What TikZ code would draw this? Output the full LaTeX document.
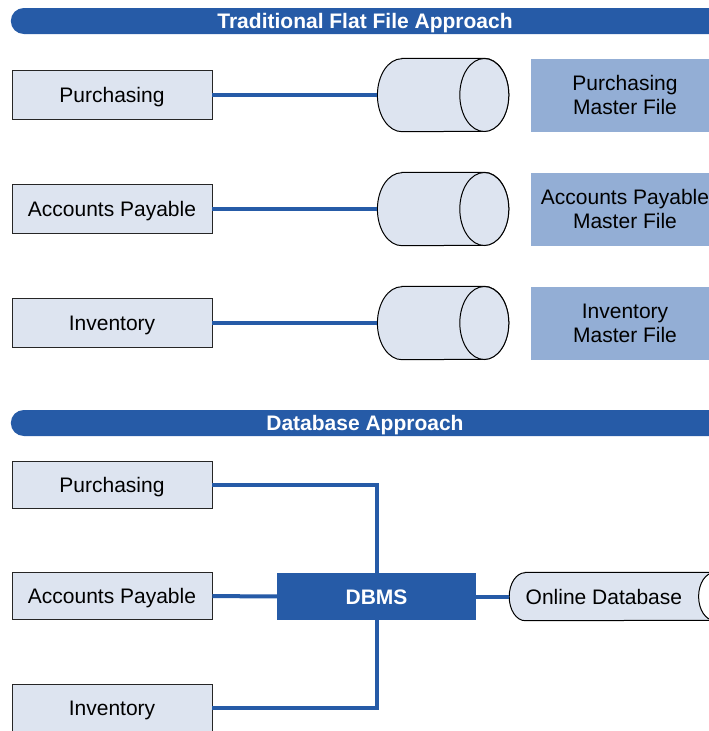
\documentclass[tikz,border=0pt]{standalone}
\usepackage{fontspec}
\setmainfont{Liberation Sans}
\usetikzlibrary{positioning,shapes.misc,backgrounds}
\definecolor{mybarblue}{RGB}{38,91,167}
\definecolor{myboxfill}{RGB}{221,228,240}
\definecolor{myfilefill}{RGB}{147,174,213}

% drum outline around a node: [#1 end fill] #2 node, #3 x radius, #4 y radius
\newcommand{\drumoutline}[4][myboxfill]{%
  \begin{scope}[on background layer]
    \filldraw [drumline] ([xshift=#3]#2.north west) -- ([xshift=#3]#2.north east)
      arc [start angle=90, end angle=-90, x radius=#3, y radius=#4]
      -- ([xshift=#3]#2.south west)
      arc [start angle=270, end angle=90, x radius=#3, y radius=#4] -- cycle;
    \filldraw [drumline, fill=#1] ([xshift=#3]#2.east) ellipse [x radius=#3, y radius=#4];
  \end{scope}
}

\begin{document}
\begin{tikzpicture}[
  x=1pt,
  y=-1pt,
  font=\fontsize{21}{24}\selectfont,
  appbox/.style={
    draw=black!85,
    line width=0.8pt,
    fill=myboxfill,
    minimum width=200pt,
    minimum height=49pt,
    text height=15pt,
    text depth=0pt,
    inner sep=0pt
  },
  drum/.style={
    minimum width=82pt,
    minimum height=73pt,
    inner sep=0pt
  },
  drumline/.style={
    draw=black,
    line width=1pt,
    fill=myboxfill
  },
  filelabel/.style={
    fill=myfilefill,
    minimum width=188pt,
    minimum height=73pt,
    align=center,
    inner sep=0pt
  },
  titlebar/.style={
    rounded rectangle,
    rounded rectangle right arc=none,
    fill=mybarblue,
    text=white,
    font=\fontsize{21}{24}\selectfont\bfseries,
    minimum width=706pt,
    minimum height=26pt,
    text height=15pt,
    text depth=0pt,
    inner sep=0pt
  },
  link/.style={draw=mybarblue, line width=4pt}
]
\clip (0,0) rectangle (709,731);

% flat files
\node [titlebar] (flattitle) at (365,21) {Traditional Flat File Approach};

\node [appbox] (purch) at (112,95) {Purchasing};
\node [appbox] (payable) at (112,209) {Accounts Payable};
\node [appbox] (invent) at (112,323) {Inventory};

\node [drum, right=165pt of purch] (purchdrum) {};
\node [drum, right=165pt of payable] (payabledrum) {};
\node [drum, right=165pt of invent] (inventdrum) {};
\drumoutline{purchdrum}{24.5pt}{36.5pt}
\drumoutline{payabledrum}{24.5pt}{36.5pt}
\drumoutline{inventdrum}{24.5pt}{36.5pt}

\node [filelabel, right=71pt of purchdrum] (purchfile) {Purchasing\\Master File};
\node [filelabel, right=71pt of payabledrum] (payablefile) {Accounts Payable\\Master File};
\node [filelabel, right=71pt of inventdrum] (inventfile) {Inventory\\Master File};

\draw [link] (purch) -- (purchdrum);
\draw [link] (payable) -- (payabledrum);
\draw [link] (invent) -- (inventdrum);

% shared database
\node [titlebar] (dbtitle) at (365,423) {Database Approach};

\node [appbox, minimum height=47pt] (dbpurch) at (112,485) {Purchasing};
\node [appbox, minimum height=47pt] (dbpayable) at (112,596) {Accounts Payable};
\node [appbox, minimum height=47pt] (dbinvent) at (112,708) {Inventory};

\node [fill=mybarblue, text=white, font=\fontsize{21}{24}\selectfont\bfseries,
  minimum width=199pt, minimum height=47pt, text height=15pt, text depth=0pt,
  inner sep=0pt] (dbms) at (376.5,596.5) {DBMS};

\node [drum, minimum width=189pt, minimum height=48pt, text height=15pt,
  text depth=0pt, right=33pt of dbms] (onlinedb) {Online Database};
\drumoutline[white]{onlinedb}{16pt}{24pt}

\draw [link] (dbpurch.east) -| (dbms.north);
\draw [link] (dbinvent.east) -| (dbms.south);
\draw [link] (dbpayable) -- (dbms);
\draw [link] (dbms) -- (onlinedb);

\end{tikzpicture}
\end{document}
